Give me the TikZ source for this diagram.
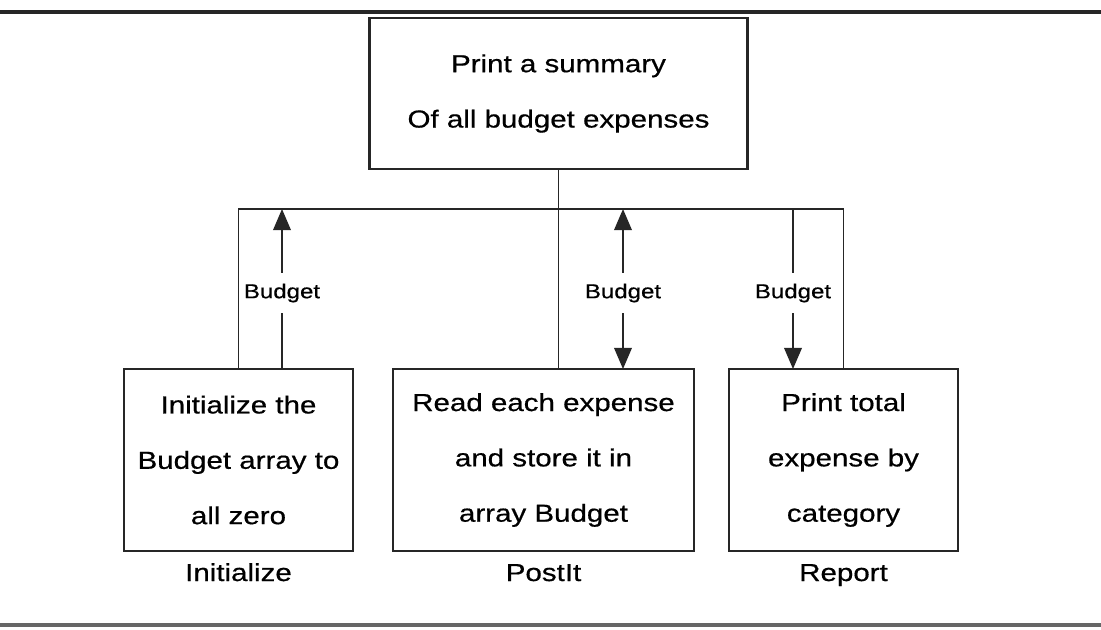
\documentclass[tikz,border=0pt]{standalone}
\usepackage{fontspec}
\setmainfont{Liberation Sans}[FakeStretch=1.2,FakeBold=0.6]
\usetikzlibrary{positioning,arrows.meta}

\begin{document}
\begin{tikzpicture}[x=0.02cm,y=-0.02cm,line width=1pt,draw=black!85]
	\tikzstyle{module}=[draw,rectangle,line width=1.3pt,align=center,inner sep=0pt,font=\fontsize{14}{31.5}\selectfont]
	\tikzstyle{modname}=[anchor=base,font=\fontsize{14}{17}\selectfont]
	\tikzstyle{couple}=[fill=white,inner xsep=1pt,inner ysep=6pt,font=\fontsize{11.4}{13}\selectfont]
	\tikzstyle{flow}=[-{Triangle[length=12pt,width=10pt]}]
	\tikzstyle{flow both}=[{Triangle[length=12pt,width=10pt]}-{Triangle[length=12pt,width=10pt]}]
	\tikzstyle{rule}=[line width=1.8pt]

	\useasboundingbox (0,0) rectangle (1101,629);
	\draw[rule] (0,12) -- (1101,12);
	\draw[rule,draw=black!60] (0,625) -- (1101,625);

	% Draw the top module
	\node[module, minimum width=7.56cm, minimum height=3.02cm] (summary) at (558.5,93.5)
		{Print a summary\\Of all budget expenses};

	% Draw the three sub-modules and their names
	\foreach \name/\x/\w/\txt/\lbl in {init/238.5/4.58cm/{Initialize the\\Budget array to\\all zero}/Initialize,
		postit/543.5/6.02cm/{Read each expense\\and store it in\\array Budget}/PostIt,
		report/843.5/4.58cm/{Print total\\expense by\\category}/Report}
	{
		\node[module, minimum width=\w, minimum height=3.64cm] (\name) at (\x,460) {\txt};
		\node[modname] (\name-name) at (\x,581) {\lbl};
	}

	% Connect the top module to every sub-module
	\coordinate (bus) at (557,209);
	\draw (summary.south) -- (summary.south |- postit.north);
	\draw (init.north) |- (bus) -| (report.north);

	% Data couples
	\coordinate (ib) at (282,369);
	\coordinate (it) at (282,209);
	\coordinate (pt) at (623,209);
	\coordinate (pb) at (623,369);
	\coordinate (rt) at (793,209);
	\coordinate (rb) at (793,369);
	\draw[flow] (ib) -- node[couple, pos=0.475] (ic) {Budget} (it);
	\draw[flow both] (pt) -- node[couple, pos=0.525] (pc) {Budget} (pb);
	\draw[flow] (rt) -- node[couple, pos=0.525] (rc) {Budget} (rb);

\end{tikzpicture}
\end{document}
